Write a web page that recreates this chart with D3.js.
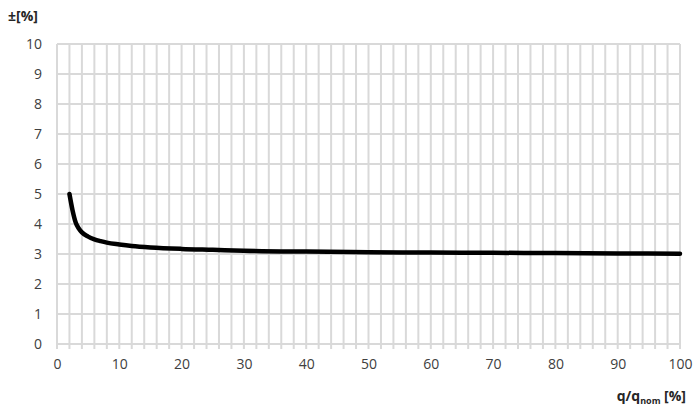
<!DOCTYPE html>
<html><head><meta charset="utf-8">
<script src="https://cdn.jsdelivr.net/npm/d3@7"></script>
<style>
body{margin:0;background:#fff;}
text{font-family:"Open Sans",sans-serif;}
</style></head>
<body><svg id="c" width="699" height="414"></svg>
<script>
const xTicks = [0,10,20,30,40,50,60,70,80,90,100];
const yTicks = [0,1,2,3,4,5,6,7,8,9,10];
const flowX = [2,2.5,3,3.5,4,5,6,7,8,10,12,15,20,25,30,40,50,60,70,80,90,100];
const errY  = [5,4.45,4.05,3.85,3.72,3.58,3.49,3.43,3.38,3.32,3.27,3.22,3.17,3.14,3.11,3.08,3.06,3.05,3.04,3.03,3.02,3.01];
const yLabel = "±[%]";

const svg = d3.select("#c");
const L=57, R=680, T=44, B=344;
const x = d3.scaleLinear().domain([0,100]).range([L,R]);
const y = d3.scaleLinear().domain([0,10]).range([B,T]);
const grid = "#d9d9d9";

// horizontal grid
svg.append("g").selectAll("line").data(yTicks).join("line")
  .attr("x1",L).attr("x2",R).attr("y1",d=>y(d)).attr("y2",d=>y(d))
  .attr("stroke",grid).attr("stroke-width",2);
// vertical grid every 2
svg.append("g").selectAll("line").data(d3.range(0,101,2)).join("line")
  .attr("x1",d=>x(d)).attr("x2",d=>x(d)).attr("y1",T).attr("y2",B+5)
  .attr("stroke",grid).attr("stroke-width",2);

// axes labels
const xa = d3.axisBottom(x).tickValues(xTicks).tickSize(0).tickPadding(15);
const gx = svg.append("g").attr("transform",`translate(0,${B})`).call(xa);
gx.select(".domain").remove();
gx.selectAll("text").attr("font-size",14).attr("fill","#404040").attr("font-family","Open Sans");
const ya = d3.axisLeft(y).tickValues(yTicks).tickSize(0).tickPadding(15);
const gy = svg.append("g").attr("transform",`translate(${L},0)`).call(ya);
gy.select(".domain").remove();
gy.selectAll("text").attr("font-size",14).attr("fill","#404040").attr("font-family","Open Sans");

// curve
const pts = flowX.map((v,i)=>[v,errY[i]]);
svg.append("path").datum(pts)
  .attr("d", d3.line().x(d=>x(d[0])).y(d=>y(d[1])).curve(d3.curveMonotoneX))
  .attr("fill","none").attr("stroke","#000").attr("stroke-width",4.5).attr("stroke-linecap","round");

// titles
svg.append("text").attr("x",8).attr("y",21).attr("font-size",14).attr("font-weight","bold")
  .attr("fill","#262626").text(yLabel);
const xt = svg.append("text").attr("x",686).attr("y",401).attr("text-anchor","end")
  .attr("font-size",14).attr("font-weight","bold").attr("fill","#262626");
xt.append("tspan").text("q/q");
xt.append("tspan").attr("font-size",9).attr("dy",3).text("nom");
xt.append("tspan").attr("dy",-3).text(" [%]");
</script></body></html>
